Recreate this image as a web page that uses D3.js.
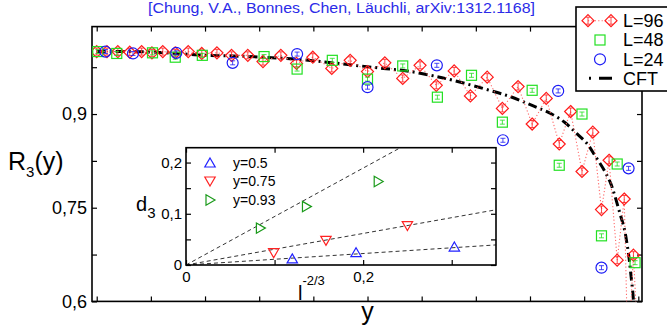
<!DOCTYPE html>
<html>
<head>
<meta charset="utf-8">
<script src="https://cdn.jsdelivr.net/npm/d3@7"></script>
<style>
  body { margin: 0; background: #fff; }
  text { font-family: "Liberation Sans", Arial, sans-serif; }
</style>
</head>
<body>
<svg id="chart" width="667" height="326"></svg>
<script>
// ---- data ----
// L=96 (red diamonds, dotted)
const l96X = [0.000, 0.019, 0.039, 0.061, 0.083, 0.102, 0.122, 0.145, 0.169, 0.194, 0.222, 0.249, 0.279, 0.307,
  0.340, 0.369, 0.399, 0.434, 0.468, 0.500, 0.532, 0.565, 0.597, 0.627, 0.660, 0.690, 0.721, 0.749, 0.778,
  0.804, 0.830, 0.854, 0.875, 0.896, 0.916, 0.932, 0.946, 0.961, 0.974, 0.981, 0.991, 0.998];
const l96Y = [1.000, 1.000, 1.000, 0.999, 1.000, 0.998, 1.000, 0.998, 1.000, 0.997, 0.998, 0.994, 0.994, 0.984,
  0.994, 0.981, 0.991, 0.973, 0.986, 0.968, 0.982, 0.957, 0.978, 0.946, 0.969, 0.929, 0.959, 0.909, 0.944,
  0.884, 0.925, 0.852, 0.904, 0.808, 0.871, 0.747, 0.826, 0.666, 0.764, 0.506, 0.674, 0.554];
// L=48 (green squares)
const l48X = [0.002, 0.037, 0.103, 0.145, 0.195, 0.309, 0.370, 0.435, 0.500, 0.565, 0.629, 0.692, 0.749,
  0.804, 0.854, 0.896, 0.932, 0.961, 0.994];
const l48Y = [1.000, 0.997, 0.998, 0.991, 0.994, 0.992, 0.972, 0.986, 0.956, 0.977, 0.927, 0.962, 0.887,
  0.938, 0.818, 0.900, 0.705, 0.820, 0.662];
// L=24 (blue circles)
const l24X = [0.016, 0.067, 0.147, 0.251, 0.370, 0.500, 0.628, 0.750, 0.852, 0.932, 0.982];
const l24Y = [1.000, 0.997, 0.998, 0.982, 0.996, 0.943, 0.978, 0.858, 0.937, 0.654, 0.813];
// CFT curve
const cftX = [0, 0.062, 0.111, 0.148, 0.202, 0.252, 0.307, 0.366, 0.425, 0.477, 0.529, 0.573, 0.628, 0.658,
  0.713, 0.763, 0.806, 0.840, 0.865, 0.886, 0.905, 0.921, 0.937, 0.949, 0.957, 0.966, 0.974, 0.979, 0.983,
  0.986, 0.990, 0.992];
const cftY = [1.000, 1.000, 0.999, 0.997, 0.994, 0.993, 0.991, 0.988, 0.983, 0.978, 0.973, 0.969, 0.960, 0.954,
  0.941, 0.928, 0.913, 0.900, 0.886, 0.869, 0.853, 0.832, 0.810, 0.789, 0.768, 0.741, 0.717, 0.693, 0.669,
  0.645, 0.613, 0.586];

// inset: d_3 vs l^{-2/3}
const insetLabels = ['y=0.5', 'y=0.75', 'y=0.93'];
const insetX = [[0.120, 0.192, 0.303], [0.099, 0.158, 0.250], [0.084, 0.136, 0.217]];
const insetY = [[0.012, 0.024, 0.035], [0.024, 0.048, 0.077], [0.072, 0.114, 0.163]];
const fitSlopes = [0.112, 0.308, 0.946];

// ticks
const xTicks = d3.range(0, 11).map(i => i / 10);
const yTicks = [0.6, 0.675, 0.75, 0.825, 0.9, 0.975];
const yTickLabels = ['0,6', '', '0,75', '', '0,9', ''];
const inYTicks = [0, 0.05, 0.1, 0.15, 0.2];
const inYTickLabels = ['0', '', '0,1', '', '0,2'];
const inXTicks = [0, 0.1, 0.2, 0.3];
const inXTickLabels = ['0', '', '0,2', ''];

const legendLabels = ['L=96', 'L=48', 'L=24', 'CFT'];

const RED = '#ff1a1a', GREEN = '#22e022', BLUE = '#1c1cf5';
const insetColors = ['#2222ff', '#ff2222', '#1a9a1a'];

const svg = d3.select('#chart');

// scales
const x = d3.scaleLinear().domain([-0.0087, 1.0068]).range([92, 642]);
const y = d3.scaleLinear().domain([0.6, 1.04]).range([301.4, 26.6]);
const ix = d3.scaleLinear().domain([0, 0.35]).range([186, 496]);
const iy = d3.scaleLinear().domain([0, 0.229]).range([265, 147.7]);

const defs = svg.append('defs');
defs.append('clipPath').attr('id', 'mainClip').append('rect')
  .attr('x', 92).attr('y', 26.6).attr('width', 550).attr('height', 274.8);
defs.append('clipPath').attr('id', 'insetClip').append('rect')
  .attr('x', 186).attr('y', 147.7).attr('width', 310).attr('height', 117.3);

// title
svg.append('text')
  .attr('x', 341.5).attr('y', 13)
  .attr('text-anchor', 'middle')
  .attr('font-size', '14px')
  .attr('fill', '#2b2be8')
  .attr('textLength', 387)
  .attr('lengthAdjust', 'spacingAndGlyphs')
  .text('[Chung, V.A., Bonnes, Chen, Läuchli, arXiv:1312.1168]');

// axes helper
const styleAxis = (g, fontSize) => {
  g.select('.domain').remove();
  g.selectAll('line').attr('stroke', '#000').attr('stroke-width', 1.2);
  g.selectAll('text').attr('font-size', fontSize).attr('font-family', '"Liberation Sans", Arial, sans-serif').attr('fill', '#000');
};

// main axes (inward ticks)
svg.append('g').attr('transform', 'translate(0,301.4)')
  .call(d3.axisBottom(x).tickValues(xTicks).tickSizeInner(-5).tickSizeOuter(0).tickFormat(''))
  .call(g => styleAxis(g, '18px'));
svg.append('g').attr('transform', 'translate(0,26.6)')
  .call(d3.axisTop(x).tickValues(xTicks).tickSizeInner(-5).tickSizeOuter(0).tickFormat(''))
  .call(g => styleAxis(g, '18px'));
svg.append('g').attr('transform', 'translate(92,0)')
  .call(d3.axisLeft(y).tickValues(yTicks).tickSizeInner(-5).tickSizeOuter(0).tickPadding(5)
    .tickFormat((d, i) => yTickLabels[i]))
  .call(g => styleAxis(g, '18px'));
svg.append('g').attr('transform', 'translate(642,0)')
  .call(d3.axisRight(y).tickValues(yTicks).tickSizeInner(-5).tickSizeOuter(0).tickFormat(''))
  .call(g => styleAxis(g, '18px'));

svg.append('rect')
  .attr('x', 92).attr('y', 26.6).attr('width', 550).attr('height', 274.8)
  .attr('fill', 'none').attr('stroke', '#000').attr('stroke-width', 1.6);

// axis labels
const rLab = svg.append('text').attr('x', 8).attr('y', 170).attr('font-size', '25px');
rLab.append('tspan').text('R');
rLab.append('tspan').attr('dy', 7).attr('font-size', '15px').text('3');
rLab.append('tspan').attr('dy', -7).text('(y)');

svg.append('text')
  .attr('x', 367.5).attr('y', 319.5)
  .attr('text-anchor', 'middle')
  .attr('font-size', '25px')
  .text('y');

// data layer
const plot = svg.append('g').attr('clip-path', 'url(#mainClip)');

const cftLine = d3.line().x(d => x(d[0])).y(d => y(d[1])).curve(d3.curveCatmullRom.alpha(0.5));
plot.append('path')
  .datum(d3.zip(cftX, cftY))
  .attr('d', cftLine)
  .attr('fill', 'none')
  .attr('stroke', '#000')
  .attr('stroke-width', 3)
  .attr('stroke-dasharray', '9,4,2,4');

const l96 = d3.zip(l96X, l96Y);
plot.append('path')
  .datum(l96)
  .attr('d', d3.line().x(d => x(d[0])).y(d => y(d[1])))
  .attr('fill', 'none')
  .attr('stroke', '#ff6a6a')
  .attr('stroke-width', 1.1)
  .attr('stroke-dasharray', '1.2,2.2');

const diamond = 'M0,-6L6,0L0,6L-6,0Z';
const diamondBar = 'M0,-3.5V3.5M-2,-3.5H2M-2,3.5H2';
const iBeam = 'M-2.5,-2H2.5M-2.5,2H2.5M0,-2V2';

const drawDiamond = (g, cx, cy, col) => {
  const m = g.append('g').attr('transform', `translate(${cx},${cy})`);
  m.append('path').attr('d', diamond).attr('fill', 'none').attr('stroke', col).attr('stroke-width', 1.2);
  m.append('path').attr('d', diamondBar).attr('fill', 'none').attr('stroke', col).attr('stroke-width', 0.8);
};
const drawSquare = (g, cx, cy, col) => {
  const m = g.append('g').attr('transform', `translate(${cx},${cy})`);
  m.append('rect').attr('x', -5).attr('y', -5).attr('width', 10).attr('height', 10)
    .attr('fill', 'none').attr('stroke', col).attr('stroke-width', 1.2);
  m.append('path').attr('d', iBeam).attr('fill', 'none').attr('stroke', col).attr('stroke-width', 0.8);
};
const drawCircle = (g, cx, cy, col) => {
  const m = g.append('g').attr('transform', `translate(${cx},${cy})`);
  m.append('circle').attr('r', 5.5).attr('fill', 'none').attr('stroke', col).attr('stroke-width', 1.2);
  m.append('path').attr('d', iBeam).attr('fill', 'none').attr('stroke', col).attr('stroke-width', 0.8);
};

l96.forEach(d => drawDiamond(plot, x(d[0]), y(d[1]), RED));
d3.zip(l48X, l48Y).forEach(d => drawSquare(plot, x(d[0]), y(d[1]), GREEN));
d3.zip(l24X, l24Y).forEach(d => drawCircle(plot, x(d[0]), y(d[1]), BLUE));

// ---- inset ----
svg.append('rect')
  .attr('x', 186).attr('y', 147.7).attr('width', 310).attr('height', 117.3)
  .attr('fill', '#fff');

const inset = svg.append('g');
inset.append('g').attr('transform', 'translate(0,265)')
  .call(d3.axisBottom(ix).tickValues(inXTicks).tickSizeInner(-5).tickSizeOuter(0).tickPadding(6)
    .tickFormat((d, i) => inXTickLabels[i]))
  .call(g => styleAxis(g, '15px'));
inset.append('g').attr('transform', 'translate(0,147.7)')
  .call(d3.axisTop(ix).tickValues(inXTicks).tickSizeInner(-5).tickSizeOuter(0).tickFormat(''))
  .call(g => styleAxis(g, '15px'));
inset.append('g').attr('transform', 'translate(186,0)')
  .call(d3.axisLeft(iy).tickValues(inYTicks).tickSizeInner(-5).tickSizeOuter(0).tickPadding(4)
    .tickFormat((d, i) => inYTickLabels[i]))
  .call(g => styleAxis(g, '15px'));
inset.append('g').attr('transform', 'translate(496,0)')
  .call(d3.axisRight(iy).tickValues(inYTicks).tickSizeInner(-5).tickSizeOuter(0).tickFormat(''))
  .call(g => styleAxis(g, '15px'));

const inPlot = inset.append('g').attr('clip-path', 'url(#insetClip)');
fitSlopes.forEach(s => {
  inPlot.append('line')
    .attr('x1', ix(0)).attr('y1', iy(0))
    .attr('x2', ix(0.35)).attr('y2', iy(0.35 * s))
    .attr('stroke', '#333').attr('stroke-width', 1).attr('stroke-dasharray', '4,3');
});

const triPaths = [
  'M0,-5L5.2,4L-5.2,4Z',   // up
  'M0,5L5.2,-4L-5.2,-4Z',  // down
  'M5,0L-4,-5.2L-4,5.2Z'   // right
];
insetX.forEach((xs, k) => {
  xs.forEach((v, j) => {
    inPlot.append('path')
      .attr('transform', `translate(${ix(v)},${iy(insetY[k][j])})`)
      .attr('d', triPaths[k])
      .attr('fill', 'none')
      .attr('stroke', insetColors[k])
      .attr('stroke-width', 1.2);
  });
});

inset.append('rect')
  .attr('x', 186).attr('y', 147.7).attr('width', 310).attr('height', 117.3)
  .attr('fill', 'none').attr('stroke', '#000').attr('stroke-width', 1.6);

// inset legend
const inLegY = [163, 181, 200];
insetLabels.forEach((lab, k) => {
  inset.append('path')
    .attr('transform', `translate(210,${inLegY[k]})`)
    .attr('d', triPaths[k])
    .attr('fill', 'none')
    .attr('stroke', insetColors[k])
    .attr('stroke-width', 1.2);
  inset.append('text')
    .attr('x', 233).attr('y', inLegY[k])
    .attr('dy', '0.35em')
    .attr('font-size', '14px')
    .text(lab);
});

// inset axis labels
const dLab = inset.append('text').attr('x', 136).attr('y', 211).attr('font-size', '20px');
dLab.append('tspan').text('d');
dLab.append('tspan').attr('dy', 7).attr('font-size', '15px').text('3');

const lLab = inset.append('text').attr('x', 298).attr('y', 300).attr('font-size', '20px');
lLab.append('tspan').text('l');
lLab.append('tspan').attr('dy', -15).attr('font-size', '13px').text('-2/3');

// ---- legend ----
const legend = svg.append('g');
legend.append('rect')
  .attr('x', 576).attr('y', 7).attr('width', 100).attr('height', 84)
  .attr('fill', '#fff').attr('stroke', '#000').attr('stroke-width', 1.6);
const legY = [20.7, 40, 59.3, 78.3];
legend.append('line')
  .attr('x1', 588).attr('x2', 611).attr('y1', legY[0]).attr('y2', legY[0])
  .attr('stroke', '#ff6a6a').attr('stroke-width', 1.1).attr('stroke-dasharray', '1.2,2.2');
drawDiamond(legend, 588, legY[0], RED);
drawDiamond(legend, 611, legY[0], RED);
legend.append('rect').attr('x', 595).attr('y', legY[1] - 5).attr('width', 10).attr('height', 10)
  .attr('fill', 'none').attr('stroke', GREEN).attr('stroke-width', 1.2);
legend.append('circle').attr('cx', 600).attr('cy', legY[2]).attr('r', 5.5)
  .attr('fill', 'none').attr('stroke', BLUE).attr('stroke-width', 1.2);
legend.append('line')
  .attr('x1', 589).attr('x2', 613).attr('y1', legY[3]).attr('y2', legY[3])
  .attr('stroke', '#000').attr('stroke-width', 3).attr('stroke-dasharray', '2,8,13');
legendLabels.forEach((lab, i) => {
  legend.append('text')
    .attr('x', 623).attr('y', legY[i])
    .attr('dy', '0.35em')
    .attr('font-size', '18px')
    .text(lab);
});
</script>
</body>
</html>
